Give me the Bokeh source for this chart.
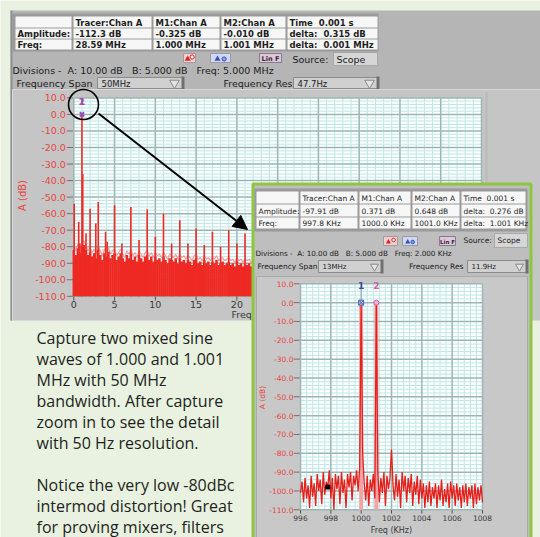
from bokeh.plotting import figure
from bokeh.models import Range1d, Arrow, NormalHead
from bokeh.core.properties import value
from bokeh.embed import file_html
from bokeh.resources import INLINE

# ---------------- data ----------------
main_xticks = [0, 5, 10, 15, 20, 25, 30, 35, 40, 45, 50]
main_yticks = [10, 0, -10, -20, -30, -40, -50, -60, -70, -80, -90, -100, -110]
main_ytick_labels = ["10.0", "0.0", "-10.0", "-20.0", "-30.0", "-40.0", "-50.0", "-60.0",
                     "-70.0", "-80.0", "-90.0", "-100.0", "-110.0"]
main_noise_step_mhz = 0.25
main_noise_db = [-82, -85, -81, -84, -80, -79, -82, -85, -83, -86, -84, -87, -82, -85, -88, -84,
                 -86, -83, -87, -85, -84, -88, -86, -84, -87, -89, -85, -87, -84, -88, -86, -89,
                 -85, -87, -89, -86, -85, -88, -86, -89, -86, -88, -87, -89, -86, -88, -90, -87,
                 -88, -89, -87, -90, -87, -89, -88, -90, -88, -89, -91, -88, -87, -90, -89, -91,
                 -88, -90, -89, -91, -89, -90, -88, -91, -90, -89, -91, -90, -89, -91, -90, -92,
                 -89, -91, -90, -92, -90, -91, -90, -92, -91, -90, -91]
main_spike_mhz = [0.05, 0.6, 0.75, 1.0, 1.1, 1.5, 2.0, 2.7, 3.0, 3.9, 4.1, 5.0, 5.9, 7.0, 8.0,
                  9.0, 10.0, 11.0, 12.0, 13.0, 14.0, 15.0, 16.0, 17.0, 18.0, 19.0, 20.0, 21.0]
main_spike_db = [-54, -65, -78, 0, -36, -72, -57, -66, -53, -71, -77, -55, -78, -56, -76,
                 -57.5, -74, -60, -78, -64, -78, -69, -79, -71, -80, -70, -78, -72]
main_marker_mhz = [1.0]
main_marker_db = [0.0]

inset_xticks = [996, 998, 1000, 1002, 1004, 1006, 1008]
inset_xtick_labels = ["996", "998", "1000", "1002", "1004", "1006", "1008"]
inset_start_khz = 996.0
inset_step_khz = 0.1
inset_db = [-101, -95, -106, -93, -104, -97, -109, -92, -103, -96,
            -108, -91, -100, -94, -107, -90, -102, -95, -98, -89,
            -104, -93, -110, -91, -99, -92, -107, -90, -101, -94,
            -109, -91, -98, -90, -105, -92, -97, -89, -100, -88,
            0, -80, -96, -105, -92, -108, -94, -100, -91, -104,
            0, -90, -106, -93, -101, -90, -108, -92, -99, -93,
            -78, -97, -105, -91, -103, -94, -109, -90, -100, -92,
            -106, -93, -101, -91, -108, -95, -102, -92, -107, -94,
            -104, -96, -109, -97, -106, -95, -108, -98, -104, -96,
            -109, -97, -105, -94, -108, -99, -106, -96, -109, -95,
            -104, -97, -108, -96, -105, -98, -109, -97, -106, -96,
            -108, -98, -104, -97, -109, -96, -107, -98, -105, -97,
            -106]
inset_marker_khz = [1000.0, 1001.0]
inset_marker_db = [0.0, 0.0]
tracer_khz = [997.8]
tracer_db = [-97.91]

NB = "\u00a0"
main_table = [["", "Tracer:Chan A", "M1:Chan A", "M2:Chan A", "Time" + NB * 2 + "0.001 s"],
              ["Amplitude:", "-112.3 dB", "-0.325 dB", "-0.010 dB", "delta:" + NB * 2 + "0.315 dB"],
              ["Freq:", "28.59 MHz", "1.000 MHz", "1.001 MHz", "delta:" + NB * 2 + "0.001 MHz"]]
inset_table = [["", "Tracer:Chan A", "M1:Chan A", "M2:Chan A", "Time" + NB * 2 + "0.001 s"],
               ["Amplitude:", "-97.91 dB", "0.371 dB", "0.648 dB", "delta:" + NB * 2 + "0.276 dB"],
               ["Freq:", "997.8 KHz", "1000.0 KHz", "1001.0 KHz", "delta:" + NB * 2 + "1.001 KHz"]]
main_divisions = ("Divisions -" + NB * 2 + "A: 10.00 dB" + NB * 3 + "B: 5.000 dB" + NB * 3
                  + "Freq: 5.000 MHz")
inset_divisions = ("Divisions -" + NB * 2 + "A: 10.00 dB" + NB * 3 + "B: 5.000 dB" + NB * 3
                   + "Freq: 2.000 KHz")
paragraph = ["Capture two mixed sine", "waves of 1.000 and 1.001", "MHz with 50 MHz",
             "bandwidth. After capture", "zoom in to see the detail", "with 50 Hz resolution.",
             "", "Notice the very low -80dBc", "intermod distortion! Great",
             "for proving mixers, filters"]

# ---------------- styling ----------------
W, H = 540, 537
BG = "#e9f2e1"
RED = "#ee2a24"
TICKRED = "#e8463f"
UI = "DejaVu Sans"
MINOR = "#c2e6e8"
MAJOR = "#9db6b4"


def xrange_for(px0, px1, v0, v1):
    s = (v1 - v0) / (px1 - px0)
    return Range1d(start=v0 - px0 * s, end=v0 + (W - px0) * s)


def yrange_for(py_top, py_bot, v_top, v_bot):
    s = (v_top - v_bot) / (py_bot - py_top)
    return Range1d(start=v_top - (H - py_top) * s, end=v_top + py_top * s)


p = figure(width=W, height=H, x_range=Range1d(0, W), y_range=Range1d(H, 0),
           min_border=0, toolbar_location=None, output_backend="svg",
           x_axis_location=None, y_axis_location=None, title=None,
           background_fill_color=BG, border_fill_color=BG, outline_line_color=None)
p.xgrid.visible = False
p.ygrid.visible = False
p.extra_x_ranges = {"mx": xrange_for(73.3, 481.0, 0, 50), "ix": xrange_for(300.0, 482.0, 996, 1008)}
p.extra_y_ranges = {"my": yrange_for(97.4, 295.8, 10, -110), "iy": yrange_for(283.3, 509.3, 10, -110)}
M = dict(x_range_name="mx", y_range_name="my")
I = dict(x_range_name="ix", y_range_name="iy")


def box(l, r, t, b, fill, line=None, lw=1, **kw):
    p.quad(left=[l], right=[r], top=[t], bottom=[b], fill_color=fill,
           line_color=line, line_width=lw, **kw)


def txt(x, y, s, size, color="#202020", align="left", baseline="middle", bold=False,
        font=UI, **kw):
    p.text(x=[x], y=[y], text=[s], text_font=value(font), text_font_size=f"{size}px",
           text_color=color, text_align=align, text_baseline=baseline,
           text_font_style="bold" if bold else "normal", **kw)


def table(rows, cols, cells, outer, size, bold):
    box(*outer, fill="#9a9a9a")
    for ri, (t, b) in enumerate(rows):
        for ci, (l, r) in enumerate(cols):
            box(l, r, t, b, fill="#f7f7f7")
            txt(l + 2, (t + b) / 2 + 0.5, cells[ri][ci], size, "#1e1e1e", bold=bold)


def icons(rx, bx, lx, t, b, size):
    box(rx[0], rx[1], t, b, fill="#efd0d0", line="#a89a9a")
    p.scatter(x=[rx[0] + (rx[1] - rx[0]) * 0.35], y=[(t + b) / 2 + 1], marker="triangle",
              size=size, fill_color="#e02020", line_color=None)
    p.scatter(x=[rx[0] + (rx[1] - rx[0]) * 0.72], y=[(t + b) / 2 - 1], marker="circle",
              size=size * 0.7, fill_color="#f8f8f8", line_color="#e02020")
    box(bx[0], bx[1], t, b, fill="#d2d8f2", line="#9a9aa8")
    p.scatter(x=[bx[0] + (bx[1] - bx[0]) * 0.35], y=[(t + b) / 2 + 1], marker="triangle",
              size=size, fill_color="#3050c0", line_color=None)
    p.scatter(x=[bx[0] + (bx[1] - bx[0]) * 0.68], y=[(t + b) / 2 + 1], marker="circle",
              size=size * 0.7, fill_color="#8fa0e8", line_color="#3050c0")
    box(lx[0], lx[1], t, b, fill="#d8c8d8", line="#8a7a8a")
    txt((lx[0] + lx[1]) / 2, (t + b) / 2 + 0.5, "Lin" + NB + "F", size * 1.1, "#402040",
        align="center", bold=True)


def dropdown(l, r, t, b, label, size, tri):
    box(l, r, t, b, fill="#d0d0d0", line="#8c8c8c")
    txt(l + 4, (t + b) / 2 + 0.5, label, size, "#202020")
    p.scatter(x=[r - tri - 3], y=[(t + b) / 2], marker="inverted_triangle", size=tri * 1.6,
              fill_color="#e4e4e4", line_color="#8a8a8a")
    box(r - 2, r + 1, t - 1, b + 1, fill="#707070")


# ---------------- main instrument panel ----------------
box(10, 540, 10, 320, fill="#b5b5b5")
box(10, 12, 10, 320, fill="#8f8f8f")
table([(16, 27), (28, 38), (39, 49)],
      [(15, 71), (73, 151), (153, 219), (221, 285), (287, 377)],
      main_table, (12, 378, 13, 51), 8.5, True)
icons((183, 195), (210, 230), (259, 281), 53, 62, 6)
txt(292, 58.5, "Source:", 9.5)
box(333, 377, 52, 65, fill="#d6d6d6", line="#a8a8a8")
txt(336, 58.5, "Scope", 9.5)
txt(12, 70, main_divisions, 9.5)
txt(16, 82.5, "Frequency Span", 9.5)
dropdown(97, 183, 77, 88, "50MHz", 8.5, 6)
txt(223, 82.5, "Frequency Res", 9.5)
dropdown(293, 378, 77, 88, "47.7Hz", 8.5, 6)
box(12, 540, 89, 320, fill="#c5c5c5", line="#d9d9d9")
box(485, 487, 92, 318, fill="#b9b9b9")

# main chart plot area and grid
p.quad(left=[main_xticks[0]], right=[main_xticks[-1]], top=[main_yticks[0]],
       bottom=[main_yticks[-1]], fill_color="#fbffff", line_color=None, **M)
minor_x = [v for v in range(main_xticks[0], main_xticks[-1] + 1) if v not in main_xticks]
minor_y = [v for v in range(main_yticks[-1], main_yticks[0] + 1, 2) if v not in main_yticks]
p.segment(x0=minor_x, x1=minor_x, y0=[main_yticks[-1]] * len(minor_x),
          y1=[main_yticks[0]] * len(minor_x), line_color=MINOR, line_width=1, **M)
p.segment(x0=[main_xticks[0]] * len(minor_y), x1=[main_xticks[-1]] * len(minor_y),
          y0=minor_y, y1=minor_y, line_color=MINOR, line_width=1, **M)
p.segment(x0=main_xticks, x1=main_xticks, y0=[main_yticks[-1]] * len(main_xticks),
          y1=[main_yticks[0]] * len(main_xticks), line_color=MAJOR, line_width=1.5, **M)
p.segment(x0=[main_xticks[0]] * len(main_yticks), x1=[main_xticks[-1]] * len(main_yticks),
          y0=main_yticks, y1=main_yticks, line_color=MAJOR, line_width=1.5, **M)

# main spectrum
noise_f = [i * main_noise_step_mhz for i in range(len(main_noise_db))]
p.line(x=noise_f, y=[v + 2.5 for v in main_noise_db], line_color="#f08888", line_width=1.2,
       line_alpha=0.8, **M)
p.vbar(x=noise_f, width=main_noise_step_mhz * 1.25, top=main_noise_db, bottom=main_yticks[-1],
       fill_color=RED, line_color=None, **M)
p.segment(x0=main_spike_mhz, x1=main_spike_mhz, y0=[main_yticks[-1]] * len(main_spike_mhz),
          y1=main_spike_db, line_color=RED, line_width=1.6, **M)

# main axes (ticks / labels)
p.segment(x0=[-0.85] * len(main_yticks), x1=[-0.1] * len(main_yticks), y0=main_yticks,
          y1=main_yticks, line_color="#707070", line_width=1, **M)
p.segment(x0=main_xticks, x1=main_xticks, y0=[-110.3] * len(main_xticks),
          y1=[-112.6] * len(main_xticks), line_color="#505050", line_width=1, **M)
p.text(x=[0] * len(main_yticks), y=main_yticks, text=main_ytick_labels, x_offset=-8,
       text_font=value(UI), text_font_size="9.5px", text_color=TICKRED, text_align="right",
       text_baseline="middle", **M)
p.text(x=main_xticks, y=[-110] * len(main_xticks), text=[str(v) for v in main_xticks],
       y_offset=5, text_font=value(UI), text_font_size="9.5px", text_color="#3a3a3a",
       text_align="center", text_baseline="top", **M)
txt(231, 314, "Freq (MHz)", 9.5, "#3a3a3a")
txt(22, 195, "A (dB)", 10, TICKRED, align="center", angle=1.5708)

# main markers
p.scatter(x=main_marker_mhz, y=main_marker_db, marker="x", size=6, line_color="#9050c0",
          line_width=2, **M)
p.text(x=main_marker_mhz, y=main_marker_db, text=["1"], y_offset=-13,
       text_font=value(UI), text_font_size="9px", text_font_style="bold", text_color="#4a50b8",
       text_align="center", text_baseline="middle", **M)
p.text(x=main_marker_mhz, y=main_marker_db, text=["2"], y_offset=-13,
       text_font=value(UI), text_font_size="9px", text_font_style="bold", text_color="#c050a8",
       text_align="center", text_baseline="middle", text_alpha=0.8, **M)

# ---------------- inset (zoomed) panel ----------------
box(252.5, 530.5, 183.5, 560, fill="#bebebe", line="#8dc63f", lw=3)
table([(191, 203), (204, 216), (217, 228)],
      [(256, 298), (300, 357), (359, 410), (412, 459), (461, 525)],
      inset_table, (254, 527, 188, 231), 7.5, False)
icons((383, 397), (402, 417), (439, 455), 236, 245, 5)
txt(463, 240, "Source:", 7.5)
box(494, 527, 233, 247, fill="#d6d6d6", line="#a8a8a8")
txt(497, 240, "Scope", 7.5)
txt(255, 253, inset_divisions, 7.2)
txt(257, 266, "Frequency Span", 7.5)
dropdown(318, 382, 260, 272, "13MHz", 7, 5)
txt(463, 266, "Frequency Res", 7.5, align="right")
dropdown(467, 527, 260, 272, "11.9Hz", 7, 5)
box(256, 527, 276, 560, fill="#c8c8c8", line="#aaaaaa")

# inset plot area and grid
p.quad(left=[inset_xticks[0]], right=[inset_xticks[-1]], top=[main_yticks[0]],
       bottom=[main_yticks[-1]], fill_color="#fbffff", line_color=None, **I)
inset_minor_x = [inset_xticks[0] + 0.4 * k for k in range(1, 30) if k % 5 != 0]
p.segment(x0=inset_minor_x, x1=inset_minor_x, y0=[main_yticks[-1]] * len(inset_minor_x),
          y1=[main_yticks[0]] * len(inset_minor_x), line_color=MINOR, line_width=1, **I)
p.segment(x0=[inset_xticks[0]] * len(minor_y), x1=[inset_xticks[-1]] * len(minor_y),
          y0=minor_y, y1=minor_y, line_color=MINOR, line_width=1, **I)
p.segment(x0=inset_xticks, x1=inset_xticks, y0=[main_yticks[-1]] * len(inset_xticks),
          y1=[main_yticks[0]] * len(inset_xticks), line_color=MAJOR, line_width=1.5, **I)
p.segment(x0=[inset_xticks[0]] * len(main_yticks), x1=[inset_xticks[-1]] * len(main_yticks),
          y0=main_yticks, y1=main_yticks, line_color=MAJOR, line_width=1.5, **I)

# inset spectrum
inset_f = [inset_start_khz + i * inset_step_khz for i in range(len(inset_db))]
p.segment(x0=inset_marker_khz, x1=inset_marker_khz, y0=[main_yticks[-1]] * 2,
          y1=inset_marker_db, line_color="#f3a3a3", line_width=4, **I)
p.line(x=inset_f, y=inset_db, line_color="#e51f1a", line_width=1.3, **I)

# inset axes
p.segment(x0=[995.55] * len(main_yticks), x1=[995.95] * len(main_yticks), y0=main_yticks,
          y1=main_yticks, line_color="#707070", line_width=1, **I)
p.segment(x0=inset_xticks, x1=inset_xticks, y0=[-110.2] * len(inset_xticks),
          y1=[-112.0] * len(inset_xticks), line_color="#505050", line_width=1, **I)
p.text(x=[inset_xticks[0]] * len(main_yticks), y=main_yticks, text=main_ytick_labels,
       x_offset=-7, text_font=value(UI), text_font_size="7.5px", text_color=TICKRED,
       text_align="right", text_baseline="middle", **I)
p.text(x=inset_xticks, y=[-110] * len(inset_xticks), text=inset_xtick_labels, y_offset=5,
       text_font=value(UI), text_font_size="7.5px", text_color="#3a3a3a",
       text_align="center", text_baseline="top", **I)
p.text(x=[(inset_xticks[0] + inset_xticks[-1]) / 2], y=[-110], text=["Freq (KHz)"],
       y_offset=16, text_font=value(UI), text_font_size="8px", text_color="#3a3a3a",
       text_align="center", text_baseline="top", **I)
txt(262, 397, "A (dB)", 7.5, TICKRED, align="center", angle=1.5708)

# inset markers
p.scatter(x=inset_marker_khz[:1], y=inset_marker_db[:1], marker="square_x", size=5,
          fill_color="#b8c4ec", line_color="#5060b0", **I)
p.scatter(x=inset_marker_khz[1:], y=inset_marker_db[1:], marker="circle", size=5,
          fill_color="#f0b0d8", line_color="#d060a8", **I)
p.text(x=inset_marker_khz, y=inset_marker_db, text=["1", "2"], y_offset=-17,
       text_font=value(UI), text_font_size="9px", text_font_style="bold",
       text_color=["#3a4aa8", "#d060a8"], text_align="center", text_baseline="middle", **I)
p.scatter(x=tracer_khz, y=tracer_db, marker="square", size=4, fill_color="black",
          line_color="black", **I)

# ---------------- description text ----------------
p.text(x=[36] * len(paragraph), y=[337 + 21 * i for i in range(len(paragraph))],
       text=paragraph, text_font=value("Open Sans"), text_font_size="16px",
       text_color="#231f20", text_align="left", text_baseline="middle")

# ---------------- callout ----------------
p.circle(x=[83], y=[104], radius=15, fill_color=None, line_color="black", line_width=1.6)
p.add_layout(Arrow(end=NormalHead(size=14, fill_color="black", line_color="black"),
                   x_start=98, y_start=113, x_end=247, y_end=229,
                   line_color="black", line_width=2))

open("out.html", "w").write(file_html(p, INLINE))
